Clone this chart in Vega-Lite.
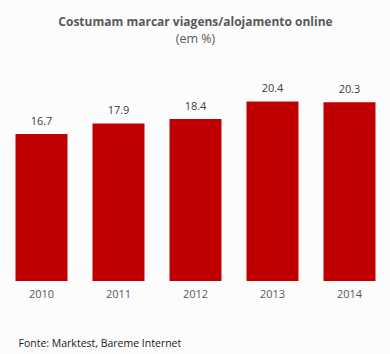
{
  "$schema": "https://vega.github.io/schema/vega-lite/v6.json",
  "autosize": {"type": "none"},
  "width": 385,
  "height": 220,
  "padding": {"left": 3, "right": 2, "top": 61, "bottom": 73},
  "background": "#fcfcfc",
  "title": {
    "text": "Costumam marcar viagens/alojamento online",
    "subtitle": "(em %)",
    "anchor": "middle",
    "frame": "group",
    "font": "Open Sans",
    "fontSize": 12,
    "fontWeight": "bold",
    "color": "#595959",
    "subtitleFont": "Open Sans",
    "subtitleFontSize": 12.5,
    "subtitleColor": "#595959",
    "subtitlePadding": 4,
    "offset": 15
  },
  "data": {
    "values": [
      {"year": "2010", "value": 16.7},
      {"year": "2011", "value": 17.9},
      {"year": "2012", "value": 18.4},
      {"year": "2013", "value": 20.4},
      {"year": "2014", "value": 20.3}
    ]
  },
  "encoding": {
    "x": {
      "field": "year",
      "type": "ordinal",
      "scale": {"paddingInner": 0.325, "paddingOuter": 0.1625},
      "axis": {
        "title": "Fonte: Marktest, Bareme Internet",
        "titleFont": "Open Sans",
        "titleFontSize": 10.5,
        "titleFontWeight": "normal",
        "titleColor": "#1a1a1a",
        "titleAnchor": "start",
        "titleAlign": "left",
        "titleBaseline": "middle",
        "titleX": 15,
        "titleY": 62,
        "labelAngle": 0,
        "labelFont": "Open Sans",
        "labelFontSize": 11,
        "labelColor": "#595959",
        "labelPadding": 7,
        "domain": false,
        "ticks": false,
        "grid": false
      }
    },
    "y": {
      "field": "value",
      "type": "quantitative",
      "scale": {"domain": [0, 25], "nice": false},
      "axis": null
    }
  },
  "layer": [
    {"mark": {"type": "bar", "color": "#c00000"}},
    {
      "mark": {
        "type": "text",
        "baseline": "bottom",
        "dy": -7,
        "font": "Open Sans",
        "fontSize": 11,
        "color": "#404040"
      },
      "encoding": {"text": {"field": "value", "type": "quantitative", "format": ".1f"}}
    }
  ],
  "config": {"view": {"stroke": null}}
}
